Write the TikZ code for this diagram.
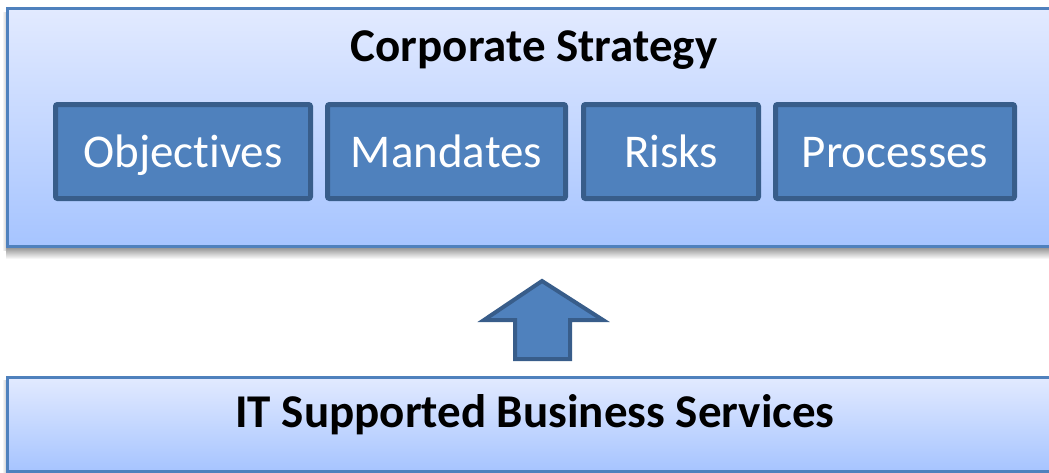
\documentclass[tikz,border=0pt]{standalone}
\usepackage{fontspec}
\setmainfont{Carlito}[Ligatures=NoCommon]
\definecolor{accent}{RGB}{79,129,189}
\definecolor{accentdark}{RGB}{56,93,138}
\definecolor{paneltop}{RGB}{226,234,255}
\definecolor{panelbot}{RGB}{166,196,255}
\tikzset{every picture/.style = {x=1pt, y=-1pt}}
\tikzset{panel/.style = {draw=accent, line width=3pt, top color=paneltop,
  bottom color=panelbot, anchor=north west, inner sep=0}}
\tikzset{item/.style = {draw=accentdark, fill=accent, line width=5pt,
  rounded corners=2pt, text=white, minimum height=94pt, inner sep=0,
  text height=36pt, text depth=4pt, font=\fontsize{47}{56}\selectfont}}
\tikzset{heading/.style = {font=\fontsize{47}{56}\selectfont\bfseries}}

\begin{document}
\begin{tikzpicture}
  \useasboundingbox (0, 0) rectangle (1049, 472);
  \clip (0, 0) rectangle (1049, 472);
  \shade[top color=black!40, bottom color=white] (6, 248) rectangle (1049, 259);
  \shade[left color=white, right color=black!18] (2, 12) rectangle (6, 250);
  \shade[left color=white, right color=black!18] (2, 380) rectangle (6, 472);
  \node(strategy)[panel, minimum width=1051, minimum height=238] at (6, 7){};
  \node(services)[panel, minimum width=1051, minimum height=94] at (6, 376){};
  \node(title)[heading] at (534, 50){Corporate Strategy};
  \node(objectives)[item, minimum width=255] at (183, 151.5){Objectives};
  \node(mandates)[item, minimum width=238] at (446.5, 151.5){Mandates};
  \node(risks)[item, minimum width=175] at (671, 151.5){Risks};
  \node(processes)[item, minimum width=239] at (895, 151.5){Processes};
  \node(itlabel)[heading] at (535, 415){IT Supported Business Services};
  \coordinate (tip) at (542, 281);
  \draw[draw=accentdark, fill=accent, line width=4pt]
    (tip) -- ++(61, 39) -- ++(-33, 0) -- ++(0, 39) -- ++(-55, 0)
    -- ++(0, -39) -- ++(-31, 0) -- cycle;
\end{tikzpicture}
\end{document}
